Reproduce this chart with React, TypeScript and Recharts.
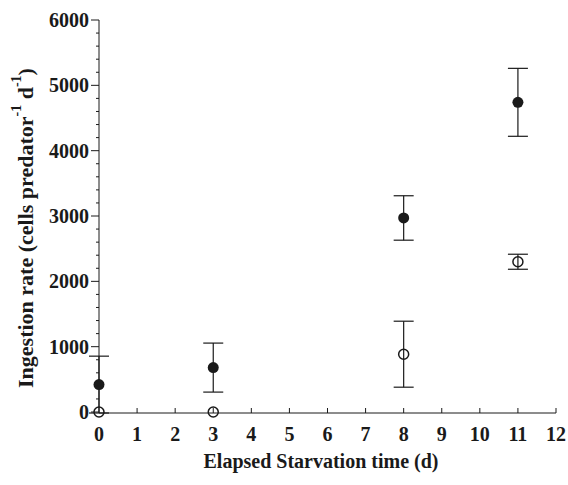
import { Scatter, ScatterChart, XAxis, YAxis, ErrorBar } from "recharts";

const days = [0, 3, 8, 11];
const filledRate = [420, 680, 2970, 4740];
const filledErr = [435, 375, 340, 520];
const openRate = [0, 0, 885, 2300];
const openErr = [0, 0, 505, 115];

const xTicks = [0, 1, 2, 3, 4, 5, 6, 7, 8, 9, 10, 11, 12];
const yTicks = Array.from({ length: 31 }, (_, i) => i * 200);

const filledData = days.map((d, i) => ({ day: d, rate: filledRate[i], err: filledErr[i] }));
const openData = days.map((d, i) => ({ day: d, rate: openRate[i], err: openErr[i] }));

const INK = "#1a1a1a";
const FONT = "'Liberation Serif', 'DejaVu Serif', serif";

function YTick(props: any) {
  const { x, y, payload } = props;
  const v = payload.value as number;
  const major = v % 1000 === 0;
  return (
    <g>
      <line x1={x - (major ? 8 : 3)} x2={x} y1={y} y2={y} stroke={INK} strokeWidth={1} />
      {major && (
        <text x={x - 10} y={y} dy="0.35em" textAnchor="end" fontSize={20} fontWeight="bold" fill={INK} fontFamily={FONT}>
          {v}
        </text>
      )}
    </g>
  );
}

function XTick(props: any) {
  const { x, y, payload } = props;
  return (
    <g>
      {payload.value !== 0 && <line x1={x} x2={x} y1={y} y2={y - 5} stroke={INK} strokeWidth={1} />}
      <text x={x} y={y} dy={28} textAnchor="middle" fontSize={20} fontWeight="bold" fill={INK} fontFamily={FONT}>
        {payload.value}
      </text>
    </g>
  );
}

const FilledDot = (p: any) => <circle cx={p.cx} cy={p.cy} r={5.5} fill={INK} />;
const OpenDot = (p: any) => <circle cx={p.cx} cy={p.cy} r={5} fill="none" stroke={INK} strokeWidth={1.5} />;

export default function App() {
  return (
    <div style={{ position: "absolute", left: 0, top: 0, width: 568, height: 485, fontFamily: FONT }}>
      <ScatterChart width={568} height={485} margin={{ top: 20, right: 12, left: 39, bottom: 42 }}>
        <XAxis
          type="number"
          dataKey="day"
          domain={[0, 12]}
          ticks={xTicks}
          interval={0}
          height={30}
          tickSize={0}
          tickMargin={0}
          tickLine={false}
          axisLine={{ stroke: INK, strokeWidth: 1 }}
          tick={<XTick />}
          label={{
            content: () => (
              <text x={321} y={468} textAnchor="middle" fontSize={20} fontWeight="bold" fill={INK} fontFamily={FONT}>
                Elapsed Starvation time (d)
              </text>
            ),
          }}
        />
        <YAxis
          type="number"
          dataKey="rate"
          domain={[0, 6000]}
          ticks={yTicks}
          interval={0}
          width={60}
          tickSize={0}
          tickMargin={0}
          tickLine={false}
          axisLine={{ stroke: INK, strokeWidth: 1 }}
          tick={<YTick />}
          label={{
            content: () => (
              <text
                x={25}
                y={228}
                transform="rotate(-90 25 228)"
                textAnchor="middle"
                dominantBaseline="central"
                fontSize={22}
                fontWeight="bold"
                fill={INK}
                fontFamily={FONT}
              >
                Ingestion rate (cells predator
                <tspan fontSize={14} dy={-9}>-1</tspan>
                <tspan dy={9}> d</tspan>
                <tspan fontSize={14} dy={-9}>-1</tspan>
                <tspan dy={9}>)</tspan>
              </text>
            ),
          }}
        />
        <Scatter data={openData} shape={<OpenDot />} isAnimationActive={false}>
          <ErrorBar dataKey="err" direction="y" width={10} stroke={INK} strokeWidth={1.2} />
        </Scatter>
        <Scatter data={filledData} shape={<FilledDot />} isAnimationActive={false}>
          <ErrorBar dataKey="err" direction="y" width={10} stroke={INK} strokeWidth={1.2} />
        </Scatter>
      </ScatterChart>
    </div>
  );
}
